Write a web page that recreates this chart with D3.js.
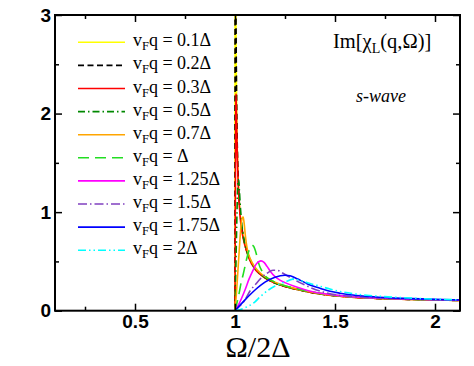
<!DOCTYPE html>
<html><head><meta charset="utf-8">
<script src="https://cdn.jsdelivr.net/npm/d3@7"></script>
<style>body{margin:0;background:#fff}svg{display:block}</style>
</head><body>
<svg id="c" width="474" height="366"></svg>
<script>
// ---- data ----
const xMajorTicks = [0.5, 1, 1.5, 2];
const xMinorTicks = [0.25, 0.75, 1.25, 1.75];
const yMajorTicks = [0, 1, 2, 3];
const yMinorTicks = [0.5, 1.5, 2.5];
const seriesLabels = ["0.1Δ", "0.2Δ", "0.3Δ", "0.5Δ", "0.7Δ", "Δ", "1.25Δ", "1.5Δ", "1.75Δ", "2Δ"];

const q01 = [[1.0,0],[1.0003,6],[1.001,5],[1.003,3.6],[1.006,2.5],[1.01,1.8],[1.015,1.4],[1.02,1.15],[1.03,0.9],[1.04,0.77],[1.05,0.67],[1.06,0.6],[1.08,0.5],[1.1,0.43],[1.125,0.375],[1.15,0.335],[1.2,0.28],[1.25,0.245],[1.3,0.22],[1.35,0.197],[1.4,0.178],[1.5,0.152],[1.6,0.135],[1.7,0.125],[1.8,0.118],[1.9,0.113],[2.0,0.108],[2.125,0.104]];
const q02 = [[1.0,0],[1.0008,5],[1.002,4.5],[1.004,3.4],[1.007,2.4],[1.01,1.85],[1.015,1.42],[1.02,1.16],[1.03,0.91],[1.04,0.77],[1.05,0.67],[1.06,0.6],[1.08,0.5],[1.1,0.43],[1.125,0.375],[1.15,0.335],[1.2,0.28],[1.25,0.245],[1.3,0.22],[1.35,0.197],[1.4,0.178],[1.5,0.152],[1.6,0.135],[1.7,0.125],[1.8,0.118],[1.9,0.113],[2.0,0.108],[2.125,0.104]];
const q03 = [[1.0,0],[1.002,1.2],[1.004,2.0],[1.005,2.2],[1.007,2.0],[1.01,1.7],[1.014,1.4],[1.019,1.17],[1.025,0.97],[1.035,0.8],[1.05,0.66],[1.07,0.53],[1.1,0.42],[1.125,0.37],[1.15,0.33],[1.2,0.28],[1.25,0.245],[1.3,0.22],[1.35,0.197],[1.4,0.178],[1.5,0.152],[1.6,0.135],[1.7,0.125],[1.8,0.118],[1.9,0.113],[2.0,0.108],[2.125,0.104]];
const q05 = [[1.0,0],[1.005,0.5],[1.01,1.0],[1.014,1.28],[1.018,1.33],[1.022,1.22],[1.027,1.05],[1.034,0.88],[1.043,0.74],[1.055,0.63],[1.07,0.54],[1.085,0.48],[1.1,0.43],[1.125,0.375],[1.15,0.335],[1.2,0.282],[1.25,0.247],[1.3,0.222],[1.35,0.199],[1.4,0.18],[1.5,0.153],[1.6,0.136],[1.7,0.126],[1.8,0.119],[1.9,0.114],[2.0,0.109],[2.125,0.105]];
const q07 = [[1.0,0],[1.008,0.2],[1.016,0.45],[1.024,0.7],[1.03,0.86],[1.036,0.94],[1.041,0.95],[1.046,0.88],[1.052,0.76],[1.06,0.64],[1.07,0.56],[1.085,0.49],[1.1,0.44],[1.125,0.385],[1.15,0.345],[1.2,0.29],[1.25,0.252],[1.3,0.226],[1.35,0.203],[1.4,0.183],[1.5,0.155],[1.6,0.137],[1.7,0.127],[1.8,0.12],[1.9,0.114],[2.0,0.109],[2.125,0.105]];
const q10 = [[1.0,0],[1.01,0.08],[1.02,0.17],[1.03,0.28],[1.04,0.36],[1.05,0.45],[1.06,0.54],[1.07,0.61],[1.08,0.655],[1.09,0.66],[1.1,0.62],[1.11,0.55],[1.12,0.47],[1.135,0.4],[1.15,0.355],[1.175,0.315],[1.2,0.29],[1.25,0.254],[1.3,0.228],[1.35,0.205],[1.4,0.185],[1.5,0.157],[1.6,0.138],[1.7,0.128],[1.8,0.121],[1.9,0.115],[2.0,0.11],[2.125,0.106]];
const q125 = [[1.0,0],[1.02,0.07],[1.05,0.21],[1.07,0.32],[1.09,0.41],[1.105,0.47],[1.12,0.5],[1.13,0.505],[1.145,0.49],[1.16,0.45],[1.18,0.39],[1.2,0.345],[1.225,0.31],[1.25,0.285],[1.3,0.245],[1.35,0.212],[1.4,0.188],[1.5,0.158],[1.6,0.139],[1.7,0.129],[1.8,0.122],[1.9,0.116],[2.0,0.111],[2.125,0.107]];
const q15 = [[1.0,0],[1.025,0.05],[1.05,0.11],[1.075,0.2],[1.1,0.26],[1.13,0.33],[1.16,0.38],[1.19,0.41],[1.21,0.41],[1.24,0.38],[1.27,0.345],[1.3,0.31],[1.35,0.26],[1.4,0.215],[1.45,0.185],[1.5,0.163],[1.6,0.142],[1.7,0.131],[1.8,0.123],[1.9,0.117],[2.0,0.112],[2.125,0.108]];
const q175 = [[1.0,0],[1.05,0.11],[1.1,0.21],[1.15,0.29],[1.2,0.34],[1.25,0.36],[1.275,0.355],[1.3,0.335],[1.325,0.31],[1.35,0.285],[1.375,0.26],[1.425,0.228],[1.475,0.197],[1.525,0.177],[1.575,0.162],[1.65,0.147],[1.75,0.134],[1.85,0.125],[2.0,0.115],[2.125,0.109]];
const q20 = [[1.0,0],[1.05,0.03],[1.1,0.09],[1.125,0.14],[1.167,0.21],[1.2,0.25],[1.25,0.29],[1.29,0.32],[1.33,0.305],[1.375,0.275],[1.425,0.248],[1.475,0.22],[1.525,0.195],[1.6,0.17],[1.7,0.15],[1.8,0.136],[1.9,0.126],[2.0,0.117],[2.125,0.11]];

const seriesData = [q01, q02, q03, q05, q07, q10, q125, q15, q175, q20];
const seriesColors = ["#ffff00", "#000000", "#ff0000", "#008800", "#ffa500", "#22dd22", "#ff00ff", "#8040c0", "#0000ff", "#00ffff"];
const seriesDash = [null, "6,3.5", null, "7,3,1.5,3", null, "11,6", null, "9,3,1.5,3", null, "8,3,1.5,3,1.5,3"];

// ---- layout ----
const svg = d3.select("#c");
const L = 55, R = 460, T = 15, B = 310.7;
const x = d3.scaleLinear().domain([0.1, 2.125]).range([L, R]);
const y = d3.scaleLinear().domain([0, 3]).range([B, T]);

svg.append("defs").append("clipPath").attr("id", "clip")
  .append("rect").attr("x", L).attr("y", T).attr("width", R - L).attr("height", B - T);

const line = d3.line().x(d => x(d[0])).y(d => y(d[1])).curve(d3.curveMonotoneX);
const g = svg.append("g").attr("clip-path", "url(#clip)");
seriesData.forEach((s, i) => {
  g.append("path").attr("d", line(s)).attr("fill", "none")
    .attr("stroke", seriesColors[i]).attr("stroke-width", 1.6)
    .attr("stroke-dasharray", seriesDash[i]);
});

// ---- axes (ticks inward on all sides) ----
function tickAxis(axisGen, tr, major, minor, fmtShow) {
  const gm = svg.append("g").attr("transform", tr)
    .call(axisGen.tickValues(major).tickSizeInner(-7).tickSizeOuter(0).tickFormat(fmtShow ? d3.format("") : ""));
  const gn = svg.append("g").attr("transform", tr)
    .call(axisGen.tickValues(minor).tickSizeInner(-4).tickSizeOuter(0).tickFormat(""));
  [gm, gn].forEach(a => { a.select(".domain").remove(); a.selectAll("line").attr("stroke", "#000").attr("stroke-width", 1.5); });
  return gm;
}
const gb = tickAxis(d3.axisBottom(x), `translate(0,${B})`, xMajorTicks, xMinorTicks, true);
gb.selectAll("text").attr("y", 3.5).attr("dy", "0.71em");
tickAxis(d3.axisTop(x), `translate(0,${T})`, xMajorTicks, xMinorTicks, false);
const gl = tickAxis(d3.axisLeft(y), `translate(${L},0)`, yMajorTicks, yMinorTicks, true);
gl.selectAll("text").attr("x", -4);
tickAxis(d3.axisRight(y), `translate(${R},0)`, yMajorTicks, yMinorTicks, false);

svg.selectAll("g text").attr("font-family", "Liberation Sans, Arial, sans-serif")
  .attr("font-weight", "bold").attr("font-size", 19).attr("fill", "#000");

svg.append("rect").attr("x", L).attr("y", T).attr("width", R - L).attr("height", B - T)
  .attr("fill", "none").attr("stroke", "#000").attr("stroke-width", 2);

// ---- axis title ----
svg.append("text").attr("x", 258).attr("y", 357).attr("text-anchor", "middle")
  .attr("font-family", "Liberation Serif, Times New Roman, serif").attr("font-size", 30)
  .text("Ω/2Δ");

// ---- legend ----
const legY0 = 42.3, legDy = 23.1;
seriesLabels.forEach((lab, i) => {
  const yy = legY0 + i * legDy;
  svg.append("line").attr("x1", 78).attr("x2", 125).attr("y1", yy).attr("y2", yy)
    .attr("stroke", seriesColors[i]).attr("stroke-width", 1.6)
    .attr("stroke-dasharray", seriesDash[i]);
  const t = svg.append("text").attr("x", 133).attr("y", yy + 4)
    .attr("font-family", "Liberation Serif, Times New Roman, serif").attr("font-size", 18);
  t.append("tspan").text("v");
  t.append("tspan").attr("font-size", 12.5).attr("dy", 4).text("F");
  t.append("tspan").attr("dy", -4).text("q = " + lab);
});

// ---- annotations ----
const ann = svg.append("text").attr("x", 333).attr("y", 48)
  .attr("font-family", "Liberation Serif, Times New Roman, serif").attr("font-size", 20.5);
ann.append("tspan").text("Im[χ");
ann.append("tspan").attr("font-size", 14).attr("dy", 5).text("L");
ann.append("tspan").attr("dy", -5).text("(q,Ω)]");

svg.append("text").attr("x", 381).attr("y", 102).attr("text-anchor", "middle")
  .attr("font-family", "Liberation Serif, Times New Roman, serif").attr("font-size", 18)
  .attr("font-style", "italic").text("s-wave");
</script>
</body></html>
